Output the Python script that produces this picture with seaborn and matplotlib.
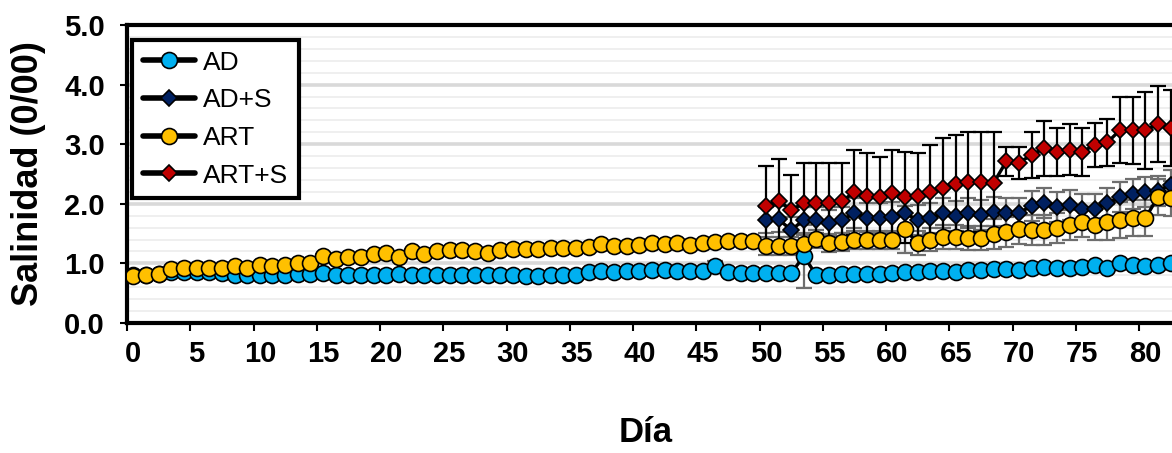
import numpy as np
import pandas as pd
import matplotlib
matplotlib.use("Agg")
import matplotlib.pyplot as plt
import seaborn as sns
from matplotlib.ticker import FixedLocator, MultipleLocator

# ---------------- data ----------------
days_all = list(range(0, 83))
days_s = list(range(50, 83))

ad = [0.80, 0.81, 0.82, 0.85, 0.86, 0.85, 0.85, 0.84, 0.81, 0.81,
      0.80, 0.81, 0.81, 0.82, 0.82, 0.84, 0.81, 0.81, 0.81, 0.81,
      0.81, 0.82, 0.80, 0.81, 0.81, 0.81, 0.81, 0.81, 0.81, 0.81,
      0.81, 0.79, 0.79, 0.80, 0.80, 0.81, 0.86, 0.88, 0.85, 0.88,
      0.87, 0.89, 0.89, 0.88, 0.87, 0.87, 0.96, 0.85, 0.84, 0.84,
      0.84, 0.84, 0.84, 1.12, 0.80, 0.80, 0.82, 0.83, 0.83, 0.83,
      0.84, 0.86, 0.86, 0.88, 0.87, 0.85, 0.89, 0.89, 0.90, 0.90,
      0.89, 0.93, 0.94, 0.92, 0.93, 0.94, 0.97, 0.92, 1.01, 0.97,
      0.96, 0.97, 1.01]
ad_err = [0.02] * 46 + [0.08] + [0.02] * 6 + [0.53] + [0.03] * 29

art = [0.79, 0.81, 0.82, 0.91, 0.92, 0.93, 0.92, 0.92, 0.96, 0.93,
       0.98, 0.95, 0.97, 1.00, 1.00, 1.13, 1.08, 1.11, 1.11, 1.15,
       1.17, 1.11, 1.21, 1.15, 1.21, 1.22, 1.22, 1.21, 1.17, 1.22,
       1.24, 1.25, 1.25, 1.26, 1.26, 1.26, 1.28, 1.32, 1.30, 1.30,
       1.31, 1.35, 1.32, 1.34, 1.31, 1.35, 1.36, 1.37, 1.38, 1.38,
       1.29, 1.29, 1.29, 1.33, 1.41, 1.34, 1.36, 1.40, 1.40, 1.39,
       1.40, 1.57, 1.34, 1.40, 1.45, 1.45, 1.42, 1.42, 1.50, 1.53,
       1.57, 1.56, 1.56, 1.59, 1.64, 1.70, 1.64, 1.70, 1.73, 1.76,
       1.76, 2.12, 2.09]
art_err = ([0.03] * 47 + [0.06] * 3 + [0.15] * 11 + [0.40] + [0.20] * 6
           + [0.25] * 9 + [0.30] * 6)

ads = [1.73, 1.74, 1.56, 1.73, 1.73, 1.68, 1.73, 1.84, 1.77, 1.76,
       1.78, 1.84, 1.73, 1.76, 1.84, 1.79, 1.85, 1.81, 1.87, 1.85,
       1.85, 1.96, 2.01, 1.95, 1.98, 1.92, 1.92, 2.01, 2.11, 2.16,
       2.20, 2.22, 2.32]
ads_err = [0.22] * 7 + [0.25] * 26

arts = [1.96, 2.05, 1.90, 2.01, 2.01, 2.01, 2.05, 2.19, 2.13, 2.11,
        2.18, 2.11, 2.13, 2.20, 2.26, 2.34, 2.37, 2.37, 2.35, 2.71,
        2.69, 2.82, 2.93, 2.87, 2.91, 2.87, 2.99, 3.03, 3.24, 3.23,
        3.23, 3.34, 3.27]
arts_err = [0.67, 0.71, 0.58, 0.68, 0.68, 0.68, 0.63, 0.72, 0.73, 0.68,
            0.73, 0.76, 0.73, 0.79, 0.84, 0.81, 0.84, 0.84, 0.86, 0.25,
            0.27, 0.39, 0.46, 0.41, 0.43, 0.41, 0.37, 0.39, 0.55, 0.56,
            0.65, 0.64, 0.64]

labels = ["AD", "AD+S", "ART", "ART+S"]
face_colors = ["#00B0F0", "#002060", "#FFC000", "#C00000"]
err_colors = ["#6E6E6E", "#6E6E6E", "#6E6E6E", "#000000"]
markers = ["o", "D", "o", "D"]

series = [
    (days_all, ad, ad_err),
    (days_s, ads, ads_err),
    (days_all, art, art_err),
    (days_s, arts, arts_err),
]

y_ticks = [0, 1, 2, 3, 4, 5]
y_tick_labels = ["0.0", "1.0", "2.0", "3.0", "4.0", "5.0"]
x_label_days = list(range(0, 81, 5))

# ---------------- style ----------------
sns.set_theme(style="white")
plt.rcParams["font.family"] = ["Liberation Sans", "DejaVu Sans"]
for k in ["text.color", "axes.labelcolor", "xtick.color", "ytick.color"]:
    plt.rcParams[k] = "black"

W, H = 1172, 453
fig = plt.figure(figsize=(W / 100, H / 100), dpi=100)
ax = fig.add_axes([127 / W, 130 / H, 1 - 127 / W, 298 / H])

# error bars first (below markers)
for (x, y, e), ec in zip(series, err_colors):
    ax.errorbar(x, y, yerr=e, fmt="none", ecolor=ec, elinewidth=1.6,
                capsize=5.5, capthick=1.6, zorder=2, label="_nolegend_")

# lines + markers via seaborn
for (x, y, e), lab, fc, mk in zip(series, labels, face_colors, markers):
    df = pd.DataFrame({"Día": x, "Salinidad": y})
    sns.lineplot(data=df, x="Día", y="Salinidad", ax=ax, sort=False,
                 errorbar=None, color="black", linewidth=2.4,
                 marker=mk, markersize=11.5 if mk == "o" else 8.3,
                 markerfacecolor=fc, markeredgecolor="black",
                 markeredgewidth=1.2, label=lab, zorder=3, legend=False)

# axes limits & ticks
ax.set_xlim(-0.5, 82.1)
ax.set_ylim(0, 5)
ax.set_yticks(y_ticks)
ax.set_yticklabels(y_tick_labels)
ax.yaxis.set_minor_locator(MultipleLocator(0.2))
ax.set_xticks(x_label_days)
ax.set_xticklabels([str(d) for d in x_label_days])
ax.xaxis.set_minor_locator(FixedLocator(np.arange(-0.5, 83, 5)))

ax.tick_params(axis="x", which="major", length=0, pad=12,
               labelsize=21, labelcolor="black")
ax.tick_params(axis="x", which="minor", length=6, width=1.5,
               direction="out", color="black", bottom=True)
ax.tick_params(axis="y", which="major", length=5, width=1.5,
               direction="out", color="black", left=True, pad=11,
               labelsize=21, labelcolor="black")
ax.tick_params(axis="y", which="minor", length=0, left=False)
for lbl in ax.get_xticklabels() + ax.get_yticklabels():
    lbl.set_fontweight("bold")

# grid
ax.set_axisbelow(True)
ax.yaxis.grid(True, which="major", color="#D9D9D9", linewidth=2.6)
ax.yaxis.grid(True, which="minor", color="#EEEEEE", linewidth=1.3)
ax.xaxis.grid(False)

# spines
for side in ["left", "bottom", "top"]:
    ax.spines[side].set_visible(True)
    ax.spines[side].set_color("black")
    ax.spines[side].set_linewidth(3)
ax.spines["right"].set_visible(False)

# labels
ax.set_xlabel("Día", fontsize=25, fontweight="bold", color="black")
ax.set_ylabel("Salinidad (0/00)", fontsize=26, fontweight="bold",
              color="black")
ax.xaxis.set_label_coords((646 - 127) / 1045, (323 - 416) / 298)
ax.yaxis.set_label_coords((46 - 127) / 1045, 0.5)

# legend
handles = [l for l in ax.get_lines() if not l.get_label().startswith("_")]
leg = ax.legend(handles=handles, labels=labels, loc="upper left",
                bbox_to_anchor=(5 / 1045, 1 - 15 / 298), borderaxespad=0,
                fontsize=19, frameon=True, fancybox=False, framealpha=1,
                edgecolor="black", handlelength=2.0, handletextpad=0.3,
                labelspacing=0.52, borderpad=0.4)
leg.get_frame().set_linewidth(3)
for t in leg.get_texts():
    t.set_color("black")
for h in leg.legend_handles:
    h.set_linewidth(4)

fig.savefig("out.png", dpi=100)
